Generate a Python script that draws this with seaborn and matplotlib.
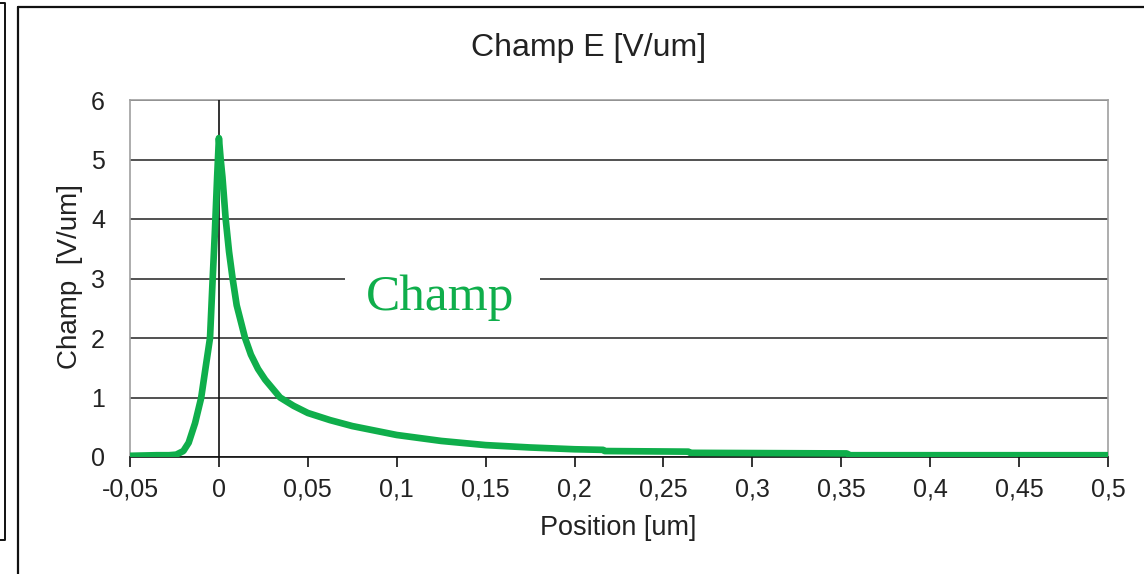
import matplotlib
matplotlib.use("Agg")
import matplotlib.pyplot as plt
import seaborn as sns
import pandas as pd
from matplotlib.ticker import FuncFormatter, MultipleLocator
from matplotlib.patches import Rectangle
from matplotlib.lines import Line2D

# ---- data ----
position = [-0.05, -0.035, -0.028, -0.024, -0.02, -0.017, -0.0134, -0.010,
            -0.0075, -0.005, -0.0035, -0.0023, -0.001, 0.0,
            0.001, 0.002, 0.0038, 0.0057, 0.0077, 0.010, 0.0147, 0.018,
            0.022, 0.026, 0.0344, 0.042, 0.05, 0.0625,
            0.075, 0.1, 0.125, 0.15, 0.175, 0.2, 0.216, 0.217, 0.264, 0.265,
            0.353, 0.355, 0.5]
champ = [0.02, 0.03, 0.03, 0.04, 0.10, 0.24, 0.57, 0.99,
         1.5, 2.0, 3.0, 3.76, 4.7, 5.36,
         5.0, 4.7, 4.0, 3.45, 3.0, 2.55, 2.0, 1.72,
         1.48, 1.3, 1.0, 0.86, 0.74, 0.62,
         0.52, 0.37, 0.27, 0.20, 0.16, 0.13, 0.12, 0.10, 0.09, 0.07,
         0.06, 0.03, 0.03]
series_name = "Champ"
title = "Champ E [V/um]"
xlabel = "Position [um]"
ylabel = "Champ  [V/um]"

df = pd.DataFrame({"Position": position, "Champ": champ})

sns.set_style("white")
plt.rcParams["font.family"] = ["Liberation Sans", "DejaVu Sans"]

W, H = 1144, 574
fig = plt.figure(figsize=(W / 100, H / 100), dpi=100)
ax = fig.add_axes([130 / W, 1 - 457 / H, 978 / W, 357 / H])

green = "#0fae4b"
sns.lineplot(data=df, x="Position", y="Champ", ax=ax, color=green,
             linewidth=4.8, zorder=5, estimator=None, sort=False)

ax.set_xlim(-0.05, 0.5)
ax.set_ylim(0, 6)
ax.xaxis.set_major_locator(MultipleLocator(0.05))
ax.yaxis.set_major_locator(MultipleLocator(1))
fmt = FuncFormatter(lambda v, p: f"{round(v, 3):g}".replace(".", ","))
ax.xaxis.set_major_formatter(fmt)
ax.yaxis.set_major_formatter(fmt)

ax.grid(axis="y", color="#222222", linewidth=1.1)
ax.grid(axis="x", visible=False)
ax.set_axisbelow(True)
ax.axvline(0, color="#111111", linewidth=1.2, zorder=3)

for s in ["left", "top", "right"]:
    ax.spines[s].set_color("#a0a0a0")
    ax.spines[s].set_linewidth(1.2)
ax.spines["bottom"].set_color("#111111")
ax.spines["bottom"].set_linewidth(1.2)

ax.tick_params(axis="x", direction="out", length=7, width=1.2, color="#111111",
               pad=8, labelsize=18, labelcolor="#222222", bottom=True)
ax.tick_params(axis="y", length=0, pad=18, labelsize=18, labelcolor="#222222")
ax.set_xlabel("")
ax.set_ylabel("")

fig.text(589 / W, 1 - 48 / H, title, ha="center", va="center", fontsize=23,
         color="#222222")
fig.text(618 / W, 1 - 528 / H, xlabel, ha="center", va="center", fontsize=19.5,
         color="#222222")
fig.text(70 / W, 1 - 277 / H, ylabel, ha="center", va="center", fontsize=20,
         rotation=90, color="#222222")

# white label box with series name
fig.add_artist(Rectangle((345 / W, 1 - 336 / H), 195 / W, 86 / H,
                         transform=fig.transFigure, facecolor="white",
                         edgecolor="none", zorder=10))
fig.text(440 / W, 1 - 298 / H, series_name, ha="center", va="center",
         fontsize=37, color=green, family=["Liberation Serif", "DejaVu Serif"],
         zorder=11)

# chart frame and neighbouring frame edges
fig.add_artist(Line2D([18 / W, 1], [1 - 7 / H, 1 - 7 / H], color="#111111",
                      linewidth=1.6, transform=fig.transFigure))
fig.add_artist(Line2D([18 / W, 18 / W], [1 - 7 / H, 0], color="#111111",
                      linewidth=1.6, transform=fig.transFigure))
fig.add_artist(Line2D([0, 5 / W, 5 / W, 0],
                      [1 - 3 / H, 1 - 3 / H, 1 - 540 / H, 1 - 540 / H],
                      color="#111111", linewidth=1.4, transform=fig.transFigure))

fig.savefig("out.png", dpi=100)
